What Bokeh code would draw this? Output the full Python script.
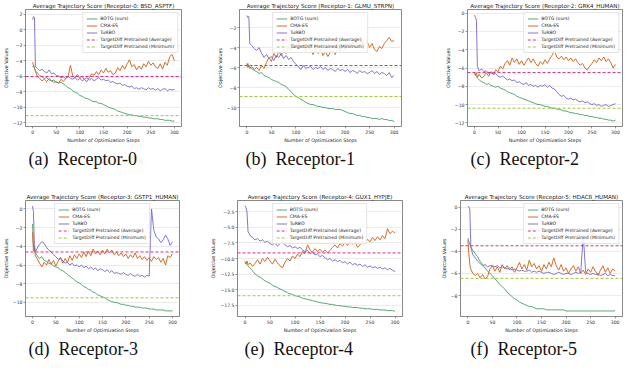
from bokeh.plotting import figure
from bokeh.layouts import column, row
from bokeh.models import Range1d, FixedTicker, Legend, LegendItem, Title
from bokeh.embed import file_html
from bokeh.resources import INLINE

STEPS = [0, 2, 4, 6, 10, 15, 20, 25, 30, 35, 40, 45, 50, 55, 60, 65, 70, 75, 80, 85,
         90, 95, 100, 105, 110, 115, 120, 125, 130, 135, 140, 145, 150, 155, 160, 165,
         170, 175, 180, 185, 190, 195, 200, 205, 210, 215, 220, 225, 230, 235, 240, 245,
         250, 255, 260, 265, 270, 275, 280, 285, 290, 295, 300]
X_TICKS = [0, 50, 100, 150, 200, 250, 300]
SERIES_NAMES = ["BOTG (ours)", "CMA-ES", "TuRBO",
                "TargetDiff Pretrained (Average)", "TargetDiff Pretrained (Minimum)"]

# ---------------- Receptor-0 ----------------
a_title = "Average Trajectory Score (Receptor-0: BSD_ASPTF)"
a_caption = "(a)\u00a0\u00a0Receptor-0"
a_botg = [-4.8, -4.6, -5.0, -5.3, -5.6, -5.9, -6.1, -6.3, -6.2, -6.5,
          -6.6, -6.5, -6.8, -6.9, -6.8, -7.0, -7.2, -7.5, -7.6, -7.9,
          -8.1, -8.2, -8.5, -8.6, -8.8, -8.9, -9.0, -9.2, -9.3, -9.3,
          -9.5, -9.5, -9.7, -9.8, -10.0, -10.1, -10.2, -10.3, -10.5, -10.6,
          -10.7, -10.8, -10.9, -11.0, -11.0, -11.1, -11.1, -11.2, -11.2, -11.3,
          -11.3, -11.4, -11.4, -11.5, -11.5, -11.5, -11.6, -11.6, -11.7, -11.7,
          -11.7, -11.8, -11.8]
a_cma = [-4.2, -4.6, -5.0, -5.4, -6.0, -6.3, -6.6, -6.4, -6.7, -6.3,
         -6.6, -6.8, -6.7, -6.9, -6.4, -6.7, -6.3, -6.1, -4.6, -6.0,
         -6.2, -5.8, -6.3, -6.0, -6.5, -6.7, -6.2, -5.7, -5.9, -5.4,
         -5.8, -5.2, -5.6, -5.0, -5.5, -5.3, -5.8, -5.6, -4.9, -5.3,
         -4.6, -5.1, -4.4, -3.9, -4.8, -4.5, -5.2, -4.7, -5.1, -4.4,
         -4.8, -4.1, -4.6, -4.3, -4.8, -5.0, -4.4, -5.1, -4.2, -4.6,
         -3.5, -3.2, -4.0]
a_turbo = [1.3, 1.7, 1.5, -4.8, -5.0, -5.3, -5.1, -5.4, -5.6, -5.2,
           -5.7, -5.6, -5.9, -6.0, -6.2, -6.1, -6.3, -6.0, -6.3, -6.4,
           -6.2, -6.5, -6.3, -6.6, -6.4, -6.2, -6.5, -6.3, -6.6, -6.4,
           -6.2, -6.5, -6.4, -6.6, -6.5, -6.8, -6.7, -6.9, -7.0, -6.9,
           -7.2, -7.1, -7.3, -7.4, -7.3, -7.6, -7.5, -7.7, -7.5, -7.6,
           -7.8, -7.5, -7.7, -7.6, -7.8, -7.6, -7.9, -7.7, -7.6, -7.9,
           -7.7, -7.8, -7.7]
a_avg = -6.05
a_min = -11.1
a_yticks = [2, 0, -2, -4, -6, -8, -10, -12]
a_ylim = (-12.5, 2.6)

# ---------------- Receptor-1 ----------------
b_title = "Average Trajectory Score (Receptor-1: GLMU_STRPN)"
b_caption = "(b)\u00a0\u00a0Receptor-1"
b_botg = [-5.8, -5.6, -5.9, -6.0, -6.1, -6.3, -6.4, -6.6, -6.5, -6.8,
          -6.9, -7.0, -7.2, -7.3, -7.4, -7.5, -7.7, -7.8, -7.9, -8.2,
          -8.4, -8.7, -8.9, -9.0, -9.2, -9.3, -9.5, -9.6, -9.7, -9.7,
          -9.8, -9.9, -9.9, -10.0, -10.0, -10.1, -10.1, -10.1, -10.2, -10.2,
          -10.2, -10.3, -10.4, -10.5, -10.6, -10.6, -10.7, -10.8, -10.8, -10.9,
          -10.9, -11.0, -11.0, -11.1, -11.1, -11.1, -11.2, -11.1, -11.2, -11.2,
          -11.3, -11.3, -11.4]
b_cma = [-5.6, -6.0, -5.8, -6.1, -5.9, -6.2, -6.0, -6.3, -5.8, -6.1,
         -5.5, -5.0, -5.4, -4.6, -5.0, -4.4, -4.8, -4.2, -4.6, -3.9,
         -4.3, -3.6, -4.0, -3.5, -4.1, -3.7, -4.4, -3.9, -4.3, -4.7,
         -4.1, -4.6, -4.2, -4.8, -4.4, -4.9, -4.5, -4.3, -4.7, -4.0,
         -4.4, -3.9, -4.2, -3.6, -4.0, -3.5, -3.9, -3.4, -3.8, -3.3,
         -3.7, -3.4, -4.0, -3.6, -4.2, -4.4, -3.9, -4.1, -3.6, -3.3,
         -3.0, -3.4, -3.3]
b_turbo = [-0.8, -1.0, -0.9, -3.6, -3.8, -4.1, -4.3, -4.0, -4.6, -5.0,
           -4.7, -5.1, -4.9, -5.3, -4.8, -5.0, -4.6, -5.1, -4.8, -5.2,
           -5.0, -5.4, -5.7, -5.9, -6.2, -5.8, -6.1, -6.0, -5.9, -6.2,
           -6.0, -6.1, -5.9, -6.2, -6.0, -6.3, -6.1, -6.2, -6.4, -6.1,
           -6.3, -6.2, -6.4, -6.2, -6.5, -6.3, -6.4, -6.6, -6.3, -6.5,
           -6.4, -6.6, -6.5, -6.3, -6.6, -6.4, -6.7, -6.5, -6.6, -6.8,
           -6.5, -7.0, -6.8]
b_avg = -5.8
b_min = -8.9
b_yticks = [-2, -4, -6, -8, -10]
b_ylim = (-11.9, -0.2)

# ---------------- Receptor-2 ----------------
c_title = "Average Trajectory Score (Receptor-2: GRK4_HUMAN)"
c_caption = "(c)\u00a0\u00a0Receptor-2"
c_botg = [-6.5, -6.7, -6.9, -7.1, -7.3, -7.5, -7.6, -7.8, -7.7, -7.9,
          -8.0, -8.1, -8.0, -8.2, -8.3, -8.4, -8.6, -8.7, -8.8, -8.9,
          -9.1, -9.2, -9.3, -9.4, -9.5, -9.6, -9.7, -9.8, -9.9, -10.0,
          -10.0, -10.1, -10.2, -10.2, -10.3, -10.4, -10.4, -10.5, -10.5, -10.6,
          -10.7, -10.7, -10.8, -10.9, -10.9, -11.0, -11.0, -11.1, -11.1, -11.2,
          -11.2, -11.3, -11.3, -11.4, -11.4, -11.5, -11.5, -11.6, -11.6, -11.7,
          -11.7, -11.8, -11.7]
c_cma = [-6.6, -6.8, -6.5, -7.0, -6.7, -7.1, -6.9, -6.5, -6.9, -6.4,
         -6.7, -6.2, -6.4, -5.8, -6.1, -5.5, -5.2, -5.7, -4.9, -5.4,
         -5.0, -5.6, -5.2, -5.7, -5.3, -4.9, -5.4, -5.0, -5.5, -5.8,
         -5.3, -5.6, -5.1, -5.5, -5.0, -4.6, -4.1, -4.8, -5.0, -4.7,
         -5.1, -4.8, -5.2, -4.9, -5.3, -5.0, -5.4, -5.7, -5.5, -6.0,
         -6.2, -5.8, -5.5, -5.1, -5.4, -4.9, -5.2, -4.8, -5.3, -5.0,
         -5.4, -6.0, -5.6]
c_turbo = [-0.2, -0.5, -0.8, -5.8, -6.3, -6.1, -6.4, -6.3, -6.6, -6.5,
           -6.7, -6.6, -6.9, -7.0, -6.9, -7.1, -7.3, -7.2, -7.4, -7.3,
           -7.6, -7.5, -7.7, -7.8, -7.6, -7.9, -7.8, -8.0, -7.9, -8.1,
           -7.9, -8.0, -7.8, -8.1, -7.9, -8.2, -8.3, -8.6, -8.9, -9.1,
           -9.0, -9.3, -9.4, -9.3, -9.5, -9.4, -9.6, -9.7, -9.6, -9.8,
           -9.7, -9.9, -10.0, -9.9, -10.1, -10.0, -10.2, -10.1, -10.0, -10.2,
           -10.1, -10.0, -9.9]
c_avg = -6.5
c_min = -10.4
c_yticks = [0, -2, -4, -6, -8, -10, -12]
c_ylim = (-12.4, 0.4)

# ---------------- Receptor-3 ----------------
d_title = "Average Trajectory Score (Receptor-3: GSTP1_HUMAN)"
d_caption = "(d)\u00a0\u00a0Receptor-3"
d_botg = [-1.6, -3.8, -4.4, -4.7, -5.0, -5.3, -5.1, -5.5, -5.6, -5.8,
          -5.9, -6.1, -6.2, -6.3, -6.5, -6.6, -6.8, -7.0, -7.2, -7.4,
          -7.6, -7.8, -7.9, -8.1, -8.3, -8.4, -8.6, -8.7, -8.9, -9.0,
          -9.2, -9.3, -9.4, -9.5, -9.7, -9.8, -9.9, -10.0, -10.0, -10.1,
          -10.2, -10.2, -10.3, -10.3, -10.4, -10.4, -10.5, -10.5, -10.5, -10.6,
          -10.6, -10.6, -10.7, -10.7, -10.7, -10.8, -10.8, -10.8, -10.8, -10.9,
          -10.9, -10.9, -10.9]
d_cma = [-2.5, -4.5, -4.0, -5.0, -5.3, -5.8, -6.2, -5.7, -6.0, -5.4,
         -5.9, -5.5, -6.1, -5.6, -5.2, -5.8, -5.3, -5.7, -5.0, -5.5,
         -4.9, -5.3, -4.8, -5.2, -4.6, -5.1, -4.5, -5.0, -4.3, -4.8,
         -4.5, -4.9, -4.4, -4.8, -4.3, -4.7, -4.4, -4.9, -4.6, -5.0,
         -4.7, -5.1, -4.8, -5.3, -4.9, -5.2, -4.7, -5.3, -5.0, -5.4,
         -5.1, -5.5, -5.2, -5.6, -5.1, -5.4, -5.2, -5.7, -5.3, -6.0,
         -5.0, -5.2, -4.8]
d_turbo = [0.3, -0.3, -3.8, -4.6, -4.2, -3.8, -3.5, -3.7, -4.1, -4.4,
           -4.6, -4.9, -5.1, -5.4, -5.2, -5.6, -5.8, -5.7, -6.0, -5.8,
           -6.1, -6.0, -6.2, -6.0, -6.3, -6.1, -6.4, -6.2, -6.5, -6.3,
           -6.6, -6.4, -6.5, -6.7, -6.5, -6.8, -6.6, -6.9, -6.8, -6.9,
           -7.0, -6.8, -7.0, -7.1, -6.9, -7.1, -7.2, -7.0, -7.2, -7.1,
           -7.3, -7.1, -7.2, 0.0, -2.3, -3.0, -3.2, -3.6, -3.3, -2.8,
           -3.2, -3.9, -3.5]
d_avg = -4.6
d_min = -9.5
d_yticks = [0, -2, -4, -6, -8, -10]
d_ylim = (-11.5, 0.9)

# ---------------- Receptor-4 ----------------
e_title = "Average Trajectory Score (Receptor-4: GUX1_HYPJE)"
e_caption = "(e)\u00a0\u00a0Receptor-4"
e_botg = [-10.5, -10.8, -11.0, -11.2, -11.5, -12.0, -12.5, -12.8, -13.0, -13.3,
          -13.6, -13.8, -14.0, -14.3, -14.5, -14.7, -14.9, -15.1, -15.3, -15.5,
          -15.7, -15.8, -16.0, -16.1, -16.2, -16.4, -16.5, -16.6, -16.7, -16.8,
          -16.9, -17.0, -17.1, -17.2, -17.2, -17.3, -17.4, -17.4, -17.5, -17.6,
          -17.6, -17.7, -17.7, -17.8, -17.8, -17.9, -17.9, -17.9, -18.0, -18.0,
          -18.1, -18.1, -18.1, -18.2, -18.2, -18.2, -18.3, -18.3, -18.3, -18.4,
          -18.4, -18.4, -18.5]
e_cma = [-10.6, -10.9, -10.4, -11.0, -10.7, -11.3, -10.8, -10.2, -10.9, -10.0,
         -10.5, -9.8, -10.4, -10.9, -10.1, -10.7, -11.2, -11.5, -10.6, -10.0,
         -10.4, -9.6, -10.0, -9.3, -9.7, -8.8, -9.2, -7.8, -8.6, -9.0,
         -8.4, -8.9, -8.5, -9.0, -8.6, -9.1, -8.7, -8.2, -7.8, -8.3,
         -7.6, -8.0, -7.4, -7.9, -7.2, -7.7, -7.3, -8.2, -7.8, -7.2,
         -7.6, -6.9, -7.3, -6.6, -7.1, -6.5, -7.0, -6.3, -6.8, -5.2,
         -6.0, -5.6, -5.9]
e_turbo = [-1.5, -1.8, -2.5, -5.6, -6.3, -6.6, -7.0, -6.8, -7.2, -7.0,
           -7.4, -7.2, -7.6, -7.8, -7.5, -8.0, -7.6, -7.3, -7.8, -8.1,
           -7.9, -8.3, -8.1, -8.4, -8.2, -8.6, -8.9, -8.7, -9.2, -9.0,
           -9.4, -9.3, -9.7, -9.5, -9.9, -10.2, -10.0, -10.4, -10.2, -10.5,
           -10.3, -10.7, -10.5, -10.9, -10.6, -11.0, -10.8, -11.1, -10.9, -11.3,
           -11.0, -11.4, -11.2, -11.5, -11.3, -11.6, -11.4, -11.7, -11.5, -11.8,
           -11.6, -11.9, -12.1]
e_avg = -9.1
e_min = -16.0
e_yticks = [-2.5, -5.0, -7.5, -10.0, -12.5, -15.0, -17.5]
e_ylim = (-19.35, -0.65)

# ---------------- Receptor-5 ----------------
f_title = "Average Trajectory Score (Receptor-5: HDAC8_HUMAN)"
f_caption = "(f)\u00a0\u00a0Receptor-5"
f_botg = [-2.8, -3.1, -3.4, -3.6, -3.9, -4.2, -4.5, -4.9, -5.2, -5.5,
          -5.8, -6.0, -6.2, -6.5, -6.7, -7.0, -7.2, -7.4, -7.7, -7.9,
          -8.1, -8.3, -8.4, -8.6, -8.7, -8.8, -8.9, -9.0, -9.0, -9.1,
          -9.2, -9.2, -9.2, -9.2, -9.3, -9.3, -9.3, -9.3, -9.3, -9.3,
          -9.3, -9.3, -9.4, -9.4, -9.4, -9.4, -9.4, -9.4, -9.4, -9.4,
          -9.4, -9.4, -9.4, -9.4, -9.4, -9.4, -9.4, -9.4, -9.4, -9.4,
          -9.4, -9.4, -9.4]
f_cma = [-3.0, -4.2, -5.2, -5.6, -6.0, -6.2, -6.0, -6.4, -6.1, -6.5,
         -6.3, -5.6, -5.3, -5.8, -5.4, -5.9, -5.2, -5.6, -5.3, -5.7,
         -5.4, -5.9, -5.5, -5.0, -5.6, -5.2, -5.7, -4.8, -5.4, -5.1,
         -5.6, -5.3, -5.8, -5.2, -5.6, -5.0, -5.4, -4.6, -5.3, -5.7,
         -5.2, -5.8, -5.5, -6.0, -5.6, -5.3, -5.8, -5.4, -6.0, -5.7,
         -6.1, -5.6, -5.9, -5.4, -5.8, -6.2, -5.7, -5.3, -5.9, -5.5,
         -6.0, -5.6, -5.8]
f_turbo = [0.1, 0.0, -0.2, -3.6, -4.3, -4.6, -4.9, -5.1, -5.3, -5.2,
           -5.4, -5.3, -5.3, -5.4, -5.3, -5.5, -5.4, -5.5, -5.6, -5.5,
           -5.7, -5.6, -5.7, -5.8, -5.7, -5.8, -5.8, -5.7, -5.9, -5.8,
           -5.9, -5.8, -5.9, -6.0, -5.9, -5.9, -6.0, -6.1, -6.0, -5.9,
           -6.0, -6.1, -6.0, -6.0, -6.1, -6.0, -5.9, -6.0, -5.9, -2.5,
           -5.9, -6.0, -6.1, -6.0, -6.1, -6.0, -6.2, -6.1, -6.0, -6.2,
           -6.1, -6.2, -6.2]
f_avg = -3.5
f_min = -6.45
f_yticks = [0, -2, -4, -6, -8]
f_ylim = (-9.9, 0.6)

C_BOTG = "#4fa36b"
C_CMA = "#d4661c"
C_TURBO = "#7a6fd0"
C_AVG = "#e3288c"
C_MIN = "#a2c83a"
FONT = "DejaVu Sans"
SERIF = "Liberation Serif"


def make_panel(title, caption, botg, cma, turbo, avg, mn, yticks, ylim,
               width, height, bl, br, bt, bb, legend_loc, cap_offset,
               decimals=False):
    xr = Range1d(-15, 315)
    p = figure(width=width, height=height, x_range=xr, y_range=Range1d(*ylim),
               output_backend="svg", toolbar_location=None,
               min_border_left=bl, min_border_right=br,
               min_border_top=bt, min_border_bottom=bb)
    p.background_fill_color = "white"
    p.border_fill_color = "white"
    p.outline_line_color = "#555555"
    p.outline_line_width = 0.7
    p.xgrid.grid_line_color = None
    p.ygrid.grid_line_color = "#e6e6e6"
    p.ygrid.grid_line_width = 0.8

    p.title.text = title
    p.title.text_font = FONT
    p.title.text_font_size = "5.6px"
    p.title.text_font_style = "normal"
    p.title.text_color = "#222222"
    p.title.align = "center"
    p.title.standoff = 1

    p.xaxis.ticker = FixedTicker(ticks=X_TICKS)
    p.yaxis.ticker = FixedTicker(ticks=yticks)
    overrides = {}
    for v in yticks:
        s = ("%.1f" % abs(v)) if decimals else ("%d" % abs(v))
        overrides[v] = ("\u2212" + s) if v < 0 else s
    p.yaxis.major_label_overrides = overrides
    p.xaxis.axis_label = "Number of Optimization Steps"
    p.yaxis.axis_label = "Objective Values"
    for ax in (p.xaxis[0], p.yaxis[0]):
        ax.axis_line_color = None
        ax.major_tick_line_color = "#555555"
        ax.major_tick_line_width = 0.6
        ax.major_tick_out = 2
        ax.major_tick_in = 0
        ax.minor_tick_line_color = None
        ax.major_label_text_font = FONT
        ax.major_label_text_font_size = "4.6px"
        ax.major_label_text_color = "#333333"
        ax.major_label_standoff = 1
        ax.axis_label_text_font = FONT
        ax.axis_label_text_font_size = "4.8px"
        ax.axis_label_text_font_style = "normal"
        ax.axis_label_text_color = "#222222"
        ax.axis_label_standoff = 1

    r1 = p.line(STEPS, botg, line_color=C_BOTG, line_width=1.0, line_alpha=0.95)
    r2 = p.line(STEPS, cma, line_color=C_CMA, line_width=1.0, line_alpha=0.95)
    r3 = p.line(STEPS, turbo, line_color=C_TURBO, line_width=1.0, line_alpha=0.95)
    r4 = p.line([xr.start, xr.end], [avg, avg], line_color=C_AVG, line_width=1.0,
                line_dash="3 2")
    r5 = p.line([xr.start, xr.end], [mn, mn], line_color=C_MIN, line_width=1.0,
                line_dash="3 2")

    items = [LegendItem(label=n, renderers=[r])
             for n, r in zip(SERIES_NAMES, [r1, r2, r3, r4, r5])]
    leg = Legend(items=items, location=legend_loc,
                 label_text_font=FONT, label_text_font_size="4.6px",
                 label_text_color="#222222",
                 label_height=5, glyph_height=5, glyph_width=11,
                 label_standoff=3, spacing=2, padding=3, margin=3,
                 border_line_color="#cccccc", border_line_width=0.6,
                 background_fill_alpha=0.85)
    p.add_layout(leg)

    cap = Title(text=caption, align="left", offset=cap_offset,
                text_font=SERIF, text_font_size="18px",
                text_font_style="normal", text_color="#111111", standoff=2)
    p.add_layout(cap, "below")
    return p


pa = make_panel(a_title, a_caption, a_botg, a_cma, a_turbo, a_avg, a_min,
                a_yticks, a_ylim, 208, 170, 19, 27, 6, 44, "top_right", 3)
pb = make_panel(b_title, b_caption, b_botg, b_cma, b_turbo, b_avg, b_min,
                b_yticks, b_ylim, 208, 170, 31, 15, 6, 44, "top_center", 6)
pc = make_panel(c_title, c_caption, c_botg, c_cma, c_turbo, c_avg, c_min,
                c_yticks, c_ylim, 208, 170, 51, 2, 6, 44, "top_right", 3)
pd_ = make_panel(d_title, d_caption, d_botg, d_cma, d_turbo, d_avg, d_min,
                 d_yticks, d_ylim, 208, 189, 19, 29, 30, 42, "top_center", 3)
pe = make_panel(e_title, e_caption, e_botg, e_cma, e_turbo, e_avg, e_min,
                e_yticks, e_ylim, 208, 189, 29, 14, 30, 42, "top_center", 7,
                decimals=True)
pf = make_panel(f_title, f_caption, f_botg, f_cma, f_turbo, f_avg, f_min,
                f_yticks, f_ylim, 208, 189, 44, 2, 30, 42, "top_right", 10)

layout = column(row(pa, pb, pc), row(pd_, pe, pf))

open("out.html", "w").write(file_html(layout, INLINE))
